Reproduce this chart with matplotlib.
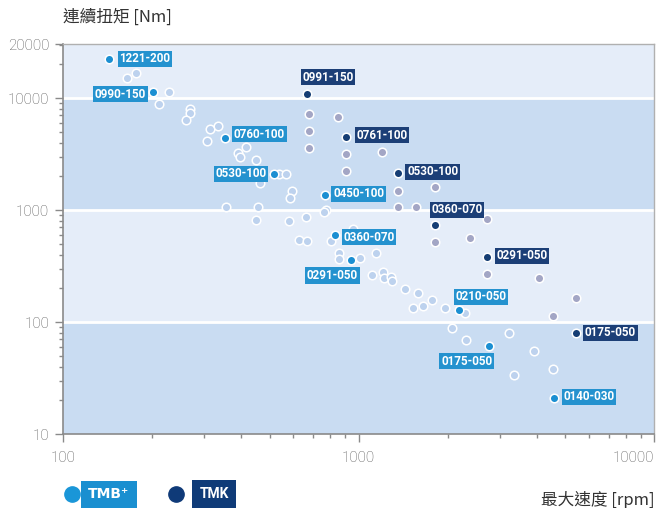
import matplotlib
matplotlib.use("Agg")
import matplotlib.pyplot as plt
from matplotlib.lines import Line2D
from matplotlib.ticker import LogLocator, NullFormatter, FixedLocator

# ---------------- data ----------------
# TMB+ (all sizes, unlabeled light points)
tmb_speed = [164, 177, 229, 212, 269, 268, 261, 313, 335, 308, 390, 416, 398, 450,
             537, 569, 462, 596, 585, 357, 457, 775, 765, 451, 582, 664, 959, 630,
             669, 807, 859, 857, 1011, 1148, 1109, 1208, 1218, 1289, 1297, 1439,
             1588, 1770, 1531, 1645, 1963, 2293, 2068, 2311, 3214, 3924, 3357, 4558]
tmb_torque = [15100, 16800, 11370, 8830, 7980, 7290, 6370, 5250, 5590, 4160, 3250,
              3650, 2970, 2790, 2110, 2110, 1730, 1480, 1280, 1060, 1055, 1010, 960,
              815, 803, 871, 680, 540, 528, 525, 416, 365, 372, 410, 263, 281, 247,
              254, 231, 196, 183, 156, 132, 138, 132, 120, 89, 69, 80, 55, 33.4, 38.3]

# TMB+ labelled models
tmbl_names = ["1221-200", "0990-150", "0760-100", "0530-100", "0450-100",
              "0360-070", "0291-050", "0210-050", "0175-050", "0140-030"]
tmbl_speed = [143, 202, 354, 518, 770, 832, 945, 2183, 2764, 4570]
tmbl_torque = [22300, 11370, 4420, 2110, 1370, 594, 358, 128, 61.4, 21.1]

# TMK (unlabeled grey points)
tmk_speed = [680, 680, 680, 851, 907, 907, 1196, 1355, 1355, 1563, 1811, 2715,
             1811, 2388, 2715, 4070, 5440, 4540]
tmk_torque = [7240, 5070, 3580, 6810, 3140, 2230, 3270, 1486, 1070, 1070, 1595,
              832, 515, 559, 267, 249, 165, 113]

# TMK labelled models
tmkl_names = ["0991-150", "0761-100", "0530-100", "0360-070", "0291-050", "0175-050"]
tmkl_speed = [671, 907, 1355, 1811, 2715, 5426]
tmkl_torque = [10900, 4510, 2140, 735, 383, 80.3]

y_ticks_lbl = ["10", "100", "1000", "10000", "20000"]
x_ticks_lbl = ["100", "1000", "10000"]

# label offsets in pixels (box centre relative to point)
tmbl_off = [(36, 0), (-33, -2.5), (34, 3.5), (-33, 0), (33.5, 0.7),
            (34, -2), (-19, -15.5), (22, 13), (-22.5, -15.3), (35, 0.7)]
tmkl_off = [(20.5, 16.7), (36, 1.5), (35, 1), (22, 15.3), (35, 1), (34.6, 0)]

# ---------------- style ----------------
C_LIGHT = "#e5edf9"
C_DARK = "#c9dcf2"
C_TMB = "#1b8fd2"
C_TMB_BOX = "#2492cf"
C_TMK = "#163e74"
C_TMK_BOX = "#1c3f77"
C_TMB_SMALL = "#bdd2ee"
C_TMK_SMALL = "#a3a6c5"

LABEL_FONT = ["Roboto", "DejaVu Sans"]

fig = plt.figure(figsize=(6.58, 5.08), dpi=100)
ax = fig.add_axes([63 / 658, 1 - 434 / 508, (654.3 - 63) / 658, (434 - 44) / 508])

ytop = 10 ** (1 + 390 / 112)
ax.set_xscale("log")
ax.set_yscale("log")
ax.set_xlim(100, 10000)
ax.set_ylim(10, ytop)

# bands
ax.axhspan(10, 100, color=C_DARK, zorder=0, lw=0)
ax.axhspan(100, 1000, color=C_LIGHT, zorder=0, lw=0)
ax.axhspan(1000, 10000, color=C_DARK, zorder=0, lw=0)
ax.axhspan(10000, ytop, color=C_LIGHT, zorder=0, lw=0)
for v in (100, 1000, 10000):
    ax.axhline(v, color="white", lw=2.0, zorder=1)

# points
ax.scatter(tmb_speed, tmb_torque, s=38, c=C_TMB_SMALL, edgecolors="white",
           linewidths=1.1, zorder=3)
ax.scatter(tmk_speed, tmk_torque, s=38, c=C_TMK_SMALL, edgecolors="white",
           linewidths=1.1, zorder=3)
ax.scatter(tmbl_speed, tmbl_torque, s=38, c=C_TMB, edgecolors="white",
           linewidths=1.1, zorder=4)
ax.scatter(tmkl_speed, tmkl_torque, s=38, c=C_TMK, edgecolors="white",
           linewidths=1.1, zorder=4)

def add_labels(names, xs, ys, offs, bg):
    for n, x, y, (dx, dy) in zip(names, xs, ys, offs):
        ax.annotate(n, xy=(x, y), xytext=(dx, dy), textcoords="offset pixels",
                    ha="center", va="center", color="white", fontsize=8.4,
                    fontweight="bold", family=LABEL_FONT, zorder=5,
                    bbox=dict(boxstyle="square,pad=0.14", fc=bg, ec="none"))

add_labels(tmbl_names, tmbl_speed, tmbl_torque, tmbl_off, C_TMB_BOX)
add_labels(tmkl_names, tmkl_speed, tmkl_torque, tmkl_off, C_TMK_BOX)

# ticks
ax.yaxis.set_major_locator(FixedLocator([10, 100, 1000, 10000, ytop]))
ax.set_yticklabels(y_ticks_lbl)
ax.yaxis.set_minor_locator(LogLocator(base=10, subs=range(2, 10)))
ax.yaxis.set_minor_formatter(NullFormatter())
ax.xaxis.set_major_locator(FixedLocator([100, 1000, 10000]))
ax.set_xticklabels(x_ticks_lbl)
ax.xaxis.set_minor_locator(LogLocator(base=10, subs=range(2, 10)))
ax.xaxis.set_minor_formatter(NullFormatter())
xl = ax.get_xticklabels()
xl[-1].set_horizontalalignment("right")

ax.tick_params(axis="both", which="major", length=6, width=1, color="#8a8a8a",
               labelcolor="#555555", labelsize=10)
ax.tick_params(axis="both", which="minor", length=3, width=1, color="#8a8a8a")
ax.tick_params(axis="x", which="major", pad=6)
ax.tick_params(axis="y", which="major", pad=4)
for lab in ax.get_xticklabels() + ax.get_yticklabels():
    lab.set_family(["Roboto", "DejaVu Sans"])
    lab.set_fontweight("light")
    lab.set_fontsize(11)

for side in ("left", "bottom"):
    ax.spines[side].set_color("#8a8a8a")
    ax.spines[side].set_linewidth(1.2)
for side in ("top", "right"):
    ax.spines[side].set_color("#b0b0b0")
    ax.spines[side].set_linewidth(1.0)

# axis titles
fig.text(63 / 658, 1 - 17.5 / 508, "連續扭矩 [Nm]", ha="left", va="center",
         fontsize=12, color="#333333", family=["Noto Sans CJK TC", "DejaVu Sans"])
fig.text(655 / 658, 1 - 499.5 / 508, "最大速度 [rpm]", ha="right", va="center",
         fontsize=12, color="#333333", family=["Noto Sans CJK TC", "DejaVu Sans"])

# legend
fig.add_artist(Line2D([71.5 / 658], [1 - 494 / 508], marker="o", markersize=11,
                      color="#1a96d8", transform=fig.transFigure, lw=0))
fig.add_artist(Line2D([176 / 658], [1 - 494 / 508], marker="o", markersize=11,
                      color="#0f3a78", transform=fig.transFigure, lw=0))
fig.text(109 / 658, 1 - 494.5 / 508, "TMB\u207a", ha="center", va="center",
         color="white", fontsize=10, fontweight="bold", family=["DejaVu Sans"],
         bbox=dict(boxstyle="square,pad=0.5", fc="#1a8fd0", ec="none"))
fig.text(214 / 658, 1 - 494.5 / 508, "TMK", ha="center", va="center",
         color="white", fontsize=10, fontweight="bold", family=LABEL_FONT,
         bbox=dict(boxstyle="square,pad=0.55", fc="#0f3b78", ec="none"))

fig.savefig("out.png", dpi=100)
